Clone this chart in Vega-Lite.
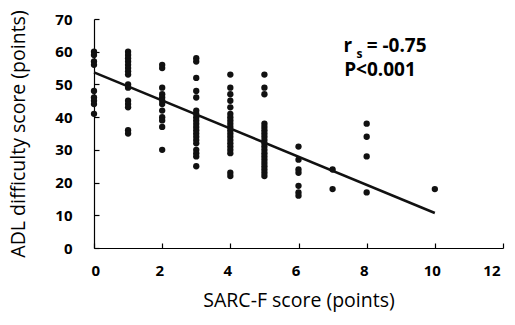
{
  "$schema": "https://vega.github.io/schema/vega-lite/v6.json",
  "width": 409,
  "height": 229,
  "autosize": {"type": "none"},
  "padding": {"left": 94, "top": 19, "right": 12, "bottom": 77},
  "background": "white",
  "config": {
    "view": {"stroke": null},
    "font": "Open Sans",
    "axis": {
      "grid": false, "domainColor": "#000", "domainWidth": 1.2, "tickColor": "#000", "tickSize": -5, "tickWidth": 1.2,
      "labelFont": "Open Sans", "labelFontWeight": "bold", "labelFontSize": 15, "labelColor": "#000", "labelOverlap": false,
      "titleFont": "Open Sans", "titleFontWeight": "normal", "titleFontSize": 19.5, "titleColor": "#000"
    },
    "axisX": {"labelPadding": 20, "titlePadding": 13, "labelOffset": -3},
    "axisY": {"labelPadding": 27, "titlePadding": 26}
  },
  "datasets": {
    "pts": [
      {"sarcf": 0, "adl": 60}, {"sarcf": 0, "adl": 59}, {"sarcf": 0, "adl": 57}, {"sarcf": 0, "adl": 56},
      {"sarcf": 0, "adl": 48}, {"sarcf": 0, "adl": 46}, {"sarcf": 0, "adl": 45}, {"sarcf": 0, "adl": 44}, {"sarcf": 0, "adl": 41},
      {"sarcf": 1, "adl": 60}, {"sarcf": 1, "adl": 59}, {"sarcf": 1, "adl": 58}, {"sarcf": 1, "adl": 57}, {"sarcf": 1, "adl": 56},
      {"sarcf": 1, "adl": 55}, {"sarcf": 1, "adl": 54}, {"sarcf": 1, "adl": 53}, {"sarcf": 1, "adl": 50}, {"sarcf": 1, "adl": 49},
      {"sarcf": 1, "adl": 45}, {"sarcf": 1, "adl": 44}, {"sarcf": 1, "adl": 43}, {"sarcf": 1, "adl": 36}, {"sarcf": 1, "adl": 35},
      {"sarcf": 2, "adl": 56}, {"sarcf": 2, "adl": 55}, {"sarcf": 2, "adl": 49}, {"sarcf": 2, "adl": 47}, {"sarcf": 2, "adl": 46},
      {"sarcf": 2, "adl": 45}, {"sarcf": 2, "adl": 44}, {"sarcf": 2, "adl": 42}, {"sarcf": 2, "adl": 40}, {"sarcf": 2, "adl": 39},
      {"sarcf": 2, "adl": 37}, {"sarcf": 2, "adl": 30},
      {"sarcf": 3, "adl": 58}, {"sarcf": 3, "adl": 57}, {"sarcf": 3, "adl": 52}, {"sarcf": 3, "adl": 48}, {"sarcf": 3, "adl": 46},
      {"sarcf": 3, "adl": 42}, {"sarcf": 3, "adl": 41}, {"sarcf": 3, "adl": 40}, {"sarcf": 3, "adl": 39}, {"sarcf": 3, "adl": 38},
      {"sarcf": 3, "adl": 37}, {"sarcf": 3, "adl": 36}, {"sarcf": 3, "adl": 35}, {"sarcf": 3, "adl": 34}, {"sarcf": 3, "adl": 33},
      {"sarcf": 3, "adl": 32}, {"sarcf": 3, "adl": 30}, {"sarcf": 3, "adl": 29}, {"sarcf": 3, "adl": 28}, {"sarcf": 3, "adl": 25},
      {"sarcf": 4, "adl": 53}, {"sarcf": 4, "adl": 49}, {"sarcf": 4, "adl": 47}, {"sarcf": 4, "adl": 45}, {"sarcf": 4, "adl": 43},
      {"sarcf": 4, "adl": 41}, {"sarcf": 4, "adl": 40}, {"sarcf": 4, "adl": 39}, {"sarcf": 4, "adl": 38}, {"sarcf": 4, "adl": 37},
      {"sarcf": 4, "adl": 36}, {"sarcf": 4, "adl": 35}, {"sarcf": 4, "adl": 34}, {"sarcf": 4, "adl": 33}, {"sarcf": 4, "adl": 32},
      {"sarcf": 4, "adl": 31}, {"sarcf": 4, "adl": 30}, {"sarcf": 4, "adl": 29}, {"sarcf": 4, "adl": 23}, {"sarcf": 4, "adl": 22},
      {"sarcf": 5, "adl": 53}, {"sarcf": 5, "adl": 49}, {"sarcf": 5, "adl": 47}, {"sarcf": 5, "adl": 38}, {"sarcf": 5, "adl": 37},
      {"sarcf": 5, "adl": 36}, {"sarcf": 5, "adl": 35}, {"sarcf": 5, "adl": 34}, {"sarcf": 5, "adl": 33}, {"sarcf": 5, "adl": 32},
      {"sarcf": 5, "adl": 31}, {"sarcf": 5, "adl": 30}, {"sarcf": 5, "adl": 29}, {"sarcf": 5, "adl": 28}, {"sarcf": 5, "adl": 27},
      {"sarcf": 5, "adl": 26}, {"sarcf": 5, "adl": 25}, {"sarcf": 5, "adl": 24}, {"sarcf": 5, "adl": 23}, {"sarcf": 5, "adl": 22},
      {"sarcf": 6, "adl": 31}, {"sarcf": 6, "adl": 27}, {"sarcf": 6, "adl": 24}, {"sarcf": 6, "adl": 23}, {"sarcf": 6, "adl": 19},
      {"sarcf": 6, "adl": 17}, {"sarcf": 6, "adl": 16},
      {"sarcf": 7, "adl": 24}, {"sarcf": 7, "adl": 18},
      {"sarcf": 8, "adl": 38}, {"sarcf": 8, "adl": 34}, {"sarcf": 8, "adl": 28}, {"sarcf": 8, "adl": 17},
      {"sarcf": 10, "adl": 18}
    ],
    "fit": [{"sarcf": 0, "adl": 53.7}, {"sarcf": 10, "adl": 10.7}]
  },
  "layer": [
    {
      "data": {"name": "pts"},
      "mark": {"type": "point", "filled": true, "shape": "circle", "size": 40, "color": "#111111", "opacity": 1},
      "encoding": {
        "x": {
          "field": "sarcf", "type": "quantitative",
          "scale": {"domain": [0, 12], "nice": false},
          "axis": {"title": "SARC-F score (points)", "values": [0, 2, 4, 6, 8, 10, 12]}
        },
        "y": {
          "field": "adl", "type": "quantitative",
          "scale": {"domain": [0, 70], "nice": false},
          "axis": {"title": "ADL difficulty score (points)", "values": [0, 10, 20, 30, 40, 50, 60, 70]}
        }
      }
    },
    {
      "data": {"name": "fit"},
      "mark": {"type": "line", "color": "#111111", "strokeWidth": 2.5},
      "encoding": {
        "x": {"field": "sarcf", "type": "quantitative", "axis": {"title": "SARC-F score (points)", "values": [0, 2, 4, 6, 8, 10, 12]}},
        "y": {"field": "adl", "type": "quantitative", "axis": {"title": "ADL difficulty score (points)", "values": [0, 10, 20, 30, 40, 50, 60, 70]}}
      }
    },
    {
      "data": {"values": [{}]},
      "mark": {"type": "text", "text": "r", "font": "Open Sans", "fontWeight": "bold", "fontSize": 19, "align": "left", "baseline": "alphabetic", "color": "#000"},
      "encoding": {
        "x": {"datum": 7.32, "type": "quantitative", "axis": {"title": "SARC-F score (points)", "values": [0, 2, 4, 6, 8, 10, 12]}},
        "y": {"datum": 60.0, "type": "quantitative", "axis": {"title": "ADL difficulty score (points)", "values": [0, 10, 20, 30, 40, 50, 60, 70]}}
      }
    },
    {
      "data": {"values": [{}]},
      "mark": {"type": "text", "text": "s", "font": "Open Sans", "fontWeight": "bold", "fontSize": 12, "align": "left", "baseline": "alphabetic", "color": "#000"},
      "encoding": {
        "x": {"datum": 7.7, "type": "quantitative", "axis": {"title": "SARC-F score (points)", "values": [0, 2, 4, 6, 8, 10, 12]}},
        "y": {"datum": 58.2, "type": "quantitative", "axis": {"title": "ADL difficulty score (points)", "values": [0, 10, 20, 30, 40, 50, 60, 70]}}
      }
    },
    {
      "data": {"values": [{}]},
      "mark": {"type": "text", "text": "= -0.75", "font": "Open Sans", "fontWeight": "bold", "fontSize": 19, "align": "left", "baseline": "alphabetic", "color": "#000"},
      "encoding": {
        "x": {"datum": 8.0, "type": "quantitative", "axis": {"title": "SARC-F score (points)", "values": [0, 2, 4, 6, 8, 10, 12]}},
        "y": {"datum": 60.0, "type": "quantitative", "axis": {"title": "ADL difficulty score (points)", "values": [0, 10, 20, 30, 40, 50, 60, 70]}}
      }
    },
    {
      "data": {"values": [{}]},
      "mark": {"type": "text", "text": "P<0.001", "font": "Open Sans", "fontWeight": "bold", "fontSize": 19, "align": "left", "baseline": "alphabetic", "color": "#000"},
      "encoding": {
        "x": {"datum": 7.34, "type": "quantitative", "axis": {"title": "SARC-F score (points)", "values": [0, 2, 4, 6, 8, 10, 12]}},
        "y": {"datum": 52.7, "type": "quantitative", "axis": {"title": "ADL difficulty score (points)", "values": [0, 10, 20, 30, 40, 50, 60, 70]}}
      }
    }
  ]
}
